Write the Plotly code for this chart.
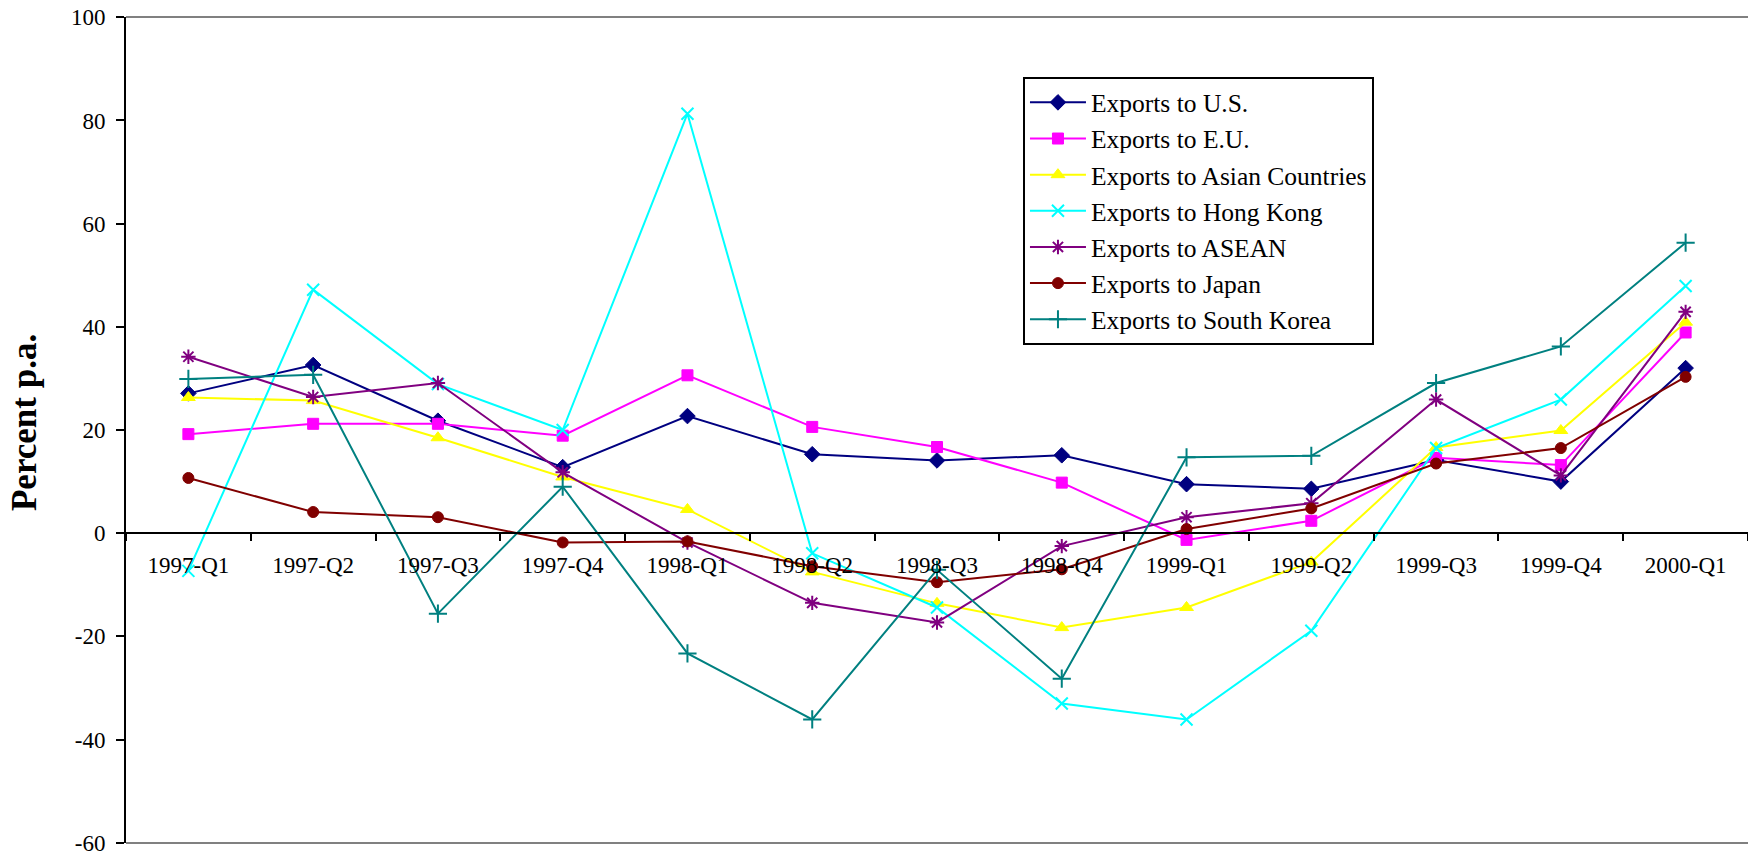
import plotly.graph_objects as go

quarters = ["1997-Q1", "1997-Q2", "1997-Q3", "1997-Q4", "1998-Q1", "1998-Q2", "1998-Q3",
            "1998-Q4", "1999-Q1", "1999-Q2", "1999-Q3", "1999-Q4", "2000-Q1"]

exports_us = [27.1, 32.6, 21.8, 12.8, 22.7, 15.3, 14.1, 15.1, 9.5, 8.6, 14.2, 10.0, 32.0]
exports_eu = [19.2, 21.2, 21.2, 18.9, 30.6, 20.6, 16.7, 9.8, -1.3, 2.4, 14.6, 13.2, 38.9]
exports_asia = [26.3, 25.7, 18.5, 10.9, 4.6, -7.5, -13.6, -18.3, -14.4, -5.6, 16.6, 19.9, 40.9]
exports_hk = [-7.3, 47.2, 28.9, 20.0, 81.3, -3.9, -14.4, -33.0, -36.1, -18.9, 16.5, 25.9, 47.9]
exports_asean = [34.2, 26.4, 29.1, 11.8, -1.8, -13.5, -17.3, -2.5, 3.1, 5.8, 25.9, 11.2, 42.9]
exports_japan = [10.7, 4.1, 3.1, -1.8, -1.6, -6.4, -9.5, -7.0, 0.8, 4.8, 13.5, 16.5, 30.3]
exports_korea = [29.9, 30.7, -15.6, 9.0, -23.3, -36.1, -7.1, -28.2, 14.7, 15.0, 29.1, 36.2, 56.3]

y_tickvals = [-60, -40, -20, 0, 20, 40, 60, 80, 100]
y_ticktext = ["-60", "-40", "-20", "0", "20", "40", "60", "80", "100"]

series = [
    ("Exports to U.S.", exports_us, "#000080", "diamond", 12, 1),
    ("Exports to E.U.", exports_eu, "#FF00FF", "square", 11, 1),
    ("Exports to Asian Countries", exports_asia, "#FFFF00", "triangle-up", 12, 1),
    ("Exports to Hong Kong", exports_hk, "#00FFFF", "x-thin-open", 12, 2),
    ("Exports to ASEAN", exports_asean, "#800080", "asterisk-open", 12, 2),
    ("Exports to Japan", exports_japan, "#800000", "circle", 11, 1),
    ("Exports to South Korea", exports_korea, "#008080", "cross-thin-open", 13, 2),
]

fig = go.Figure()
for i, (name, vals, color, sym, size, mlw) in enumerate(series):
    fig.add_trace(go.Scatter(
        x=quarters, y=vals, name=name, mode="lines+markers",
        line=dict(color=color, width=2),
        marker=dict(symbol=sym, size=size, color=color, line=dict(color=color, width=mlw)),
    ))

font_family = "Liberation Serif, Times New Roman, serif"

fig.update_layout(
    width=1748, height=856,
    margin=dict(l=126, r=0, t=17, b=13),
    paper_bgcolor="white", plot_bgcolor="white",
    font=dict(family=font_family, color="black", size=23),
    showlegend=True,
    legend=dict(
        x=0.553, y=0.927, xanchor="left", yanchor="top",
        bordercolor="black", borderwidth=2, bgcolor="white",
        font=dict(family=font_family, size=25.5, color="black"),
        itemwidth=56, traceorder="normal",
    ),
    xaxis=dict(
        type="category", range=[-0.5, 12.5],
        anchor="free", position=0.375,
        showline=True, linecolor="black", linewidth=2,
        ticks="outside", tickson="boundaries", ticklen=7, tickwidth=2, tickcolor="black",
        ticklabelstandoff=11,
        showgrid=False, zeroline=False,
        tickfont=dict(family=font_family, size=23, color="black"),
    ),
    yaxis=dict(
        range=[-60.05, 100.05], tickvals=y_tickvals, ticktext=y_ticktext,
        showline=True, linecolor="black", linewidth=2,
        ticks="outside", ticklen=8, tickwidth=2, tickcolor="black",
        ticklabelstandoff=6, automargin=False, ticklabeloverflow="allow",
        showgrid=False, zeroline=False,
        tickfont=dict(family=font_family, size=23, color="black"),
    ),
    shapes=[
        dict(type="line", xref="paper", yref="paper", x0=0, x1=1, y0=1, y1=1,
             line=dict(color="#808080", width=2), layer="below"),
        dict(type="line", xref="paper", yref="paper", x0=0, x1=1, y0=0, y1=0,
             line=dict(color="#808080", width=2), layer="below"),
    ],
    annotations=[
        dict(text="<b>Percent p.a.</b>", xref="paper", yref="paper",
             x=-0.0626, y=0.509, xanchor="center", yanchor="middle",
             textangle=-90, showarrow=False,
             font=dict(family=font_family, size=35, color="black")),
    ],
)

fig.write_html("out.html")
